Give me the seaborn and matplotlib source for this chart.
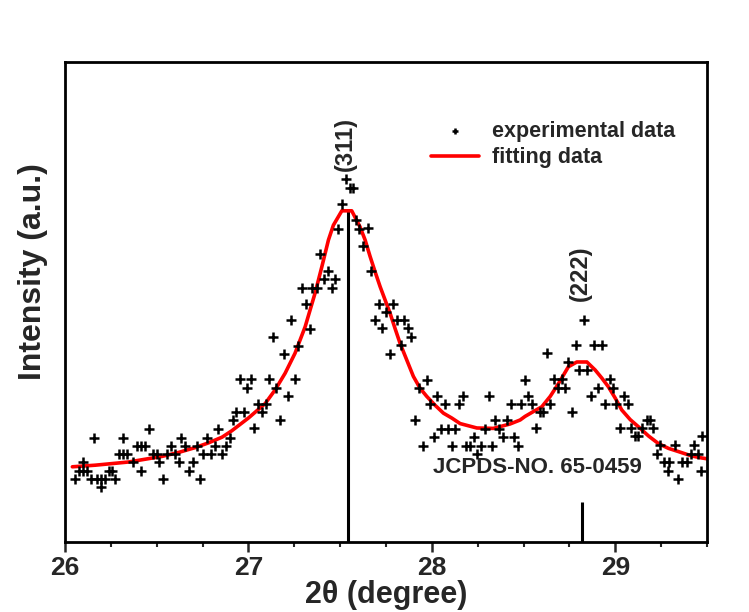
import matplotlib
matplotlib.use('Agg')
import matplotlib.pyplot as plt
from matplotlib.ticker import MultipleLocator, NullLocator
import seaborn as sns
import pandas as pd

# experimental XRD points (2theta in degree, intensity in a.u.)
exp_x = [26.056, 26.078, 26.100, 26.100, 26.122, 26.143, 26.158, 26.176, 26.198, 26.198,
         26.220, 26.242, 26.256, 26.274, 26.296, 26.318, 26.318, 26.340, 26.369, 26.391,
         26.416, 26.416, 26.438, 26.456, 26.478, 26.500, 26.514, 26.536, 26.558, 26.580,
         26.601, 26.620, 26.634, 26.656, 26.674, 26.696, 26.718, 26.736, 26.754, 26.776,
         26.798, 26.816, 26.834,
         26.854, 26.876, 26.898, 26.916, 26.934, 26.953, 26.974, 26.992, 27.014, 27.032,
         27.051, 27.076, 27.094, 27.112, 27.134, 27.152, 27.174, 27.192, 27.214, 27.232,
         27.254, 27.272, 27.294, 27.312, 27.334, 27.348, 27.374, 27.392, 27.414, 27.432,
         27.454, 27.472, 27.490, 27.512, 27.531, 27.552, 27.570, 27.588, 27.603, 27.625,
         27.652, 27.667, 27.689, 27.710, 27.728, 27.750, 27.772, 27.790, 27.809, 27.830,
         27.848, 27.870, 27.888, 27.910, 27.929, 27.950, 27.972, 27.990, 28.012, 28.030,
         28.048, 28.070, 28.088, 28.110, 28.128, 28.147, 28.168, 28.186, 28.208, 28.230,
         28.248, 28.270, 28.288, 28.310, 28.328, 28.346, 28.368, 28.390, 28.408, 28.430,
         28.448, 28.470, 28.488, 28.507, 28.525,
         28.548, 28.570, 28.588, 28.606, 28.628, 28.646, 28.668, 28.686, 28.708, 28.726,
         28.744, 28.766, 28.788, 28.803, 28.828, 28.846, 28.868, 28.886, 28.908, 28.926,
         28.944, 28.970, 28.988, 29.006, 29.028, 29.046, 29.068, 29.086, 29.108, 29.126,
         29.148, 29.170, 29.188, 29.206, 29.228, 29.243, 29.268, 29.286, 29.290, 29.326,
         29.344, 29.366, 29.388, 29.410, 29.428, 29.450, 29.466, 29.472]
exp_y = [7.9, 8.9, 10.0, 8.9, 8.9, 7.9, 13.0, 7.9, 6.9, 7.9,
         7.9, 8.9, 8.9, 7.9, 11.0, 13.0, 11.0, 11.0, 10.0, 12.0,
         8.9, 12.0, 12.0, 14.1, 11.0, 11.0, 10.0, 7.9, 11.0, 12.0,
         11.0, 10.0, 13.0, 12.0, 8.9, 10.0, 12.0, 7.9, 11.0, 13.0,
         11.0, 12.0, 14.1,
         11.0, 12.0, 13.0, 15.2, 16.2, 20.4, 16.2, 19.3, 20.4, 14.2,
         17.2, 16.2, 17.2, 20.4, 25.6, 19.3, 15.2, 23.5, 18.3, 27.7,
         20.4, 24.5, 31.8, 29.8, 26.6, 31.8, 31.8, 36.0, 32.9, 33.9,
         31.8, 32.9, 39.1, 42.3, 45.4, 44.3, 44.3, 40.2, 39.1, 37.0,
         39.2, 33.9, 27.8, 29.8, 26.7, 28.8, 23.5, 29.8, 27.8, 24.6,
         27.8, 26.7, 25.6, 15.2, 19.3, 12.0, 20.3, 17.3, 13.1, 18.3,
         14.1, 17.3, 14.1, 12.0, 14.1, 17.3, 18.3, 12.0, 12.0, 13.1,
         11.0, 12.0, 14.1, 18.3, 12.0, 15.2, 14.1, 13.1, 15.2, 17.3,
         13.1, 12.0, 17.3, 20.3, 18.3,
         17.3, 14.2, 16.3, 16.3, 23.6, 17.3, 20.4, 19.3, 20.4, 19.3,
         22.5, 16.3, 24.6, 21.5, 27.7, 21.5, 18.3, 24.6, 19.3, 24.6,
         17.3, 20.4, 19.3, 17.3, 14.2, 18.3, 17.3, 14.2, 13.2, 13.2,
         14.2, 15.3, 15.3, 14.2, 11.0, 12.1, 10.0, 8.9, 10.0, 12.1,
         7.9, 10.0, 10.0, 11.0, 12.1, 11.0, 8.9, 13.2]

# fitted curve
fit_x = [26.04, 26.165, 26.347, 26.529, 26.620, 26.710, 26.783, 26.856, 26.909, 27.000,
         27.091, 27.145, 27.200, 27.254, 27.309, 27.363, 27.400, 27.436, 27.463, 27.509,
         27.563, 27.608, 27.636, 27.663, 27.690, 27.718, 27.745, 27.772, 27.799, 27.827,
         27.863, 27.899, 27.936, 27.972, 28.017, 28.063, 28.108, 28.154, 28.245, 28.335,
         28.426, 28.481, 28.508, 28.553, 28.599, 28.645, 28.690, 28.744, 28.790, 28.845,
         28.890, 28.926, 28.962, 28.999, 29.035, 29.081, 29.126, 29.181, 29.235, 29.290,
         29.344, 29.417, 29.472, 29.50]
fit_y = [9.4, 9.6, 10.0, 10.7, 11.2, 11.8, 12.4, 13.1, 13.9, 15.5,
         17.3, 19.0, 21.1, 23.6, 26.9, 31.1, 34.4, 37.75, 39.6, 41.4,
         41.4, 39.4, 37.75, 35.7, 33.8, 31.9, 30.25, 28.6, 26.7, 24.8,
         22.75, 20.7, 19.2, 18.2, 17.1, 16.1, 15.5, 14.8, 14.25, 14.2,
         14.75, 15.25, 15.7, 16.3, 16.9, 18.2, 19.8, 21.9, 22.5, 22.5,
         21.5, 20.5, 19.4, 18.0, 16.5, 15.3, 14.4, 13.25, 12.3, 11.7,
         11.3, 10.75, 10.5, 10.4]

# JCPDS No. 65-0459 reference lines
ref_pos = [27.54, 28.82]
ref_height = [41.5, 5.0]
peak_labels = ['(311)', '(222)']
peak_label_x = [27.53, 28.81]
peak_label_y = [49.75, 33.6]

exp_df = pd.DataFrame({'two_theta': exp_x, 'intensity': exp_y})
fit_df = pd.DataFrame({'two_theta': fit_x, 'intensity': fit_y})

sns.set_style('ticks')
plt.rcParams['font.family'] = ['Liberation Sans', 'DejaVu Sans']
plt.rcParams['font.weight'] = 'bold'

fig = plt.figure(figsize=(7.49, 6.12), dpi=100)
ax = fig.add_axes([0.0868, 0.1144, 0.8572, 0.7843])

ax.vlines(ref_pos, 0, ref_height, color='black', linewidth=2.2, zorder=1)
sns.scatterplot(data=exp_df, x='two_theta', y='intensity', marker='+', s=55,
                color='black', linewidth=1.8, ax=ax, label='experimental data', zorder=3)
sns.lineplot(data=fit_df, x='two_theta', y='intensity', color='red', linewidth=2.6,
             ax=ax, label='fitting data', zorder=2)

for xp, lab, yl in zip(peak_label_x, peak_labels, peak_label_y):
    ax.text(xp, yl, lab, rotation=90, ha='center', va='center', fontsize=17, fontweight='bold')
ax.text(28.007, 9.25, 'JCPDS-NO. 65-0459', ha='left', va='center', fontsize=16, fontweight='bold')

ax.set_xlim(26, 29.5)
ax.set_ylim(0, 60)
ax.xaxis.set_major_locator(MultipleLocator(1))
ax.xaxis.set_minor_locator(MultipleLocator(0.25))
ax.yaxis.set_major_locator(NullLocator())
ax.tick_params(axis='x', which='major', length=7, width=1.8, labelsize=19, pad=3)
ax.tick_params(axis='x', which='minor', length=3.5, width=1.5)
for lab in ax.get_xticklabels():
    lab.set_fontweight('bold')
for sp in ax.spines.values():
    sp.set_visible(True)
    sp.set_linewidth(2.0)
    sp.set_color('black')

ax.set_xlabel('2θ (degree)', fontsize=22, fontweight='bold', labelpad=0)
ax.set_ylabel('Intensity (a.u.)', fontsize=23, fontweight='bold')
ax.yaxis.set_label_coords(-0.027, 0.5625)

leg = ax.legend(loc='upper right', bbox_to_anchor=(0.98, 0.918), frameon=False,
                fontsize=15.5, markerscale=0.5, handlelength=2.2, handletextpad=0.6,
                labelspacing=0.25)
for t in leg.get_texts():
    t.set_fontweight('bold')

fig.savefig('out.png', dpi=100)
